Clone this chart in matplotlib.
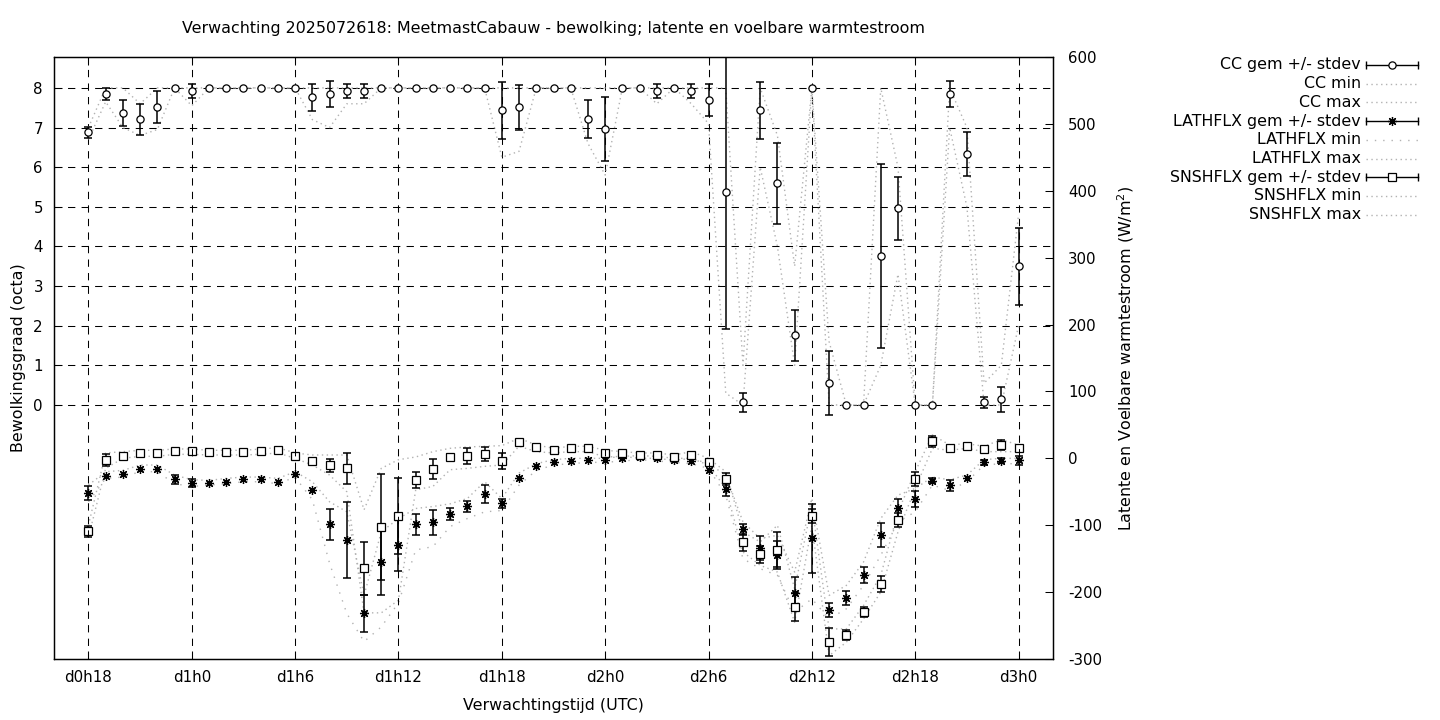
import numpy as np
import matplotlib
matplotlib.use("Agg")
import matplotlib.pyplot as plt
from matplotlib.lines import Line2D

# forecast hours (d0h18 .. d3h0)
hours = np.arange(18, 73)
tick_hours = [18, 24, 30, 36, 42, 48, 54, 60, 66, 72]
tick_labels = ["d0h18", "d1h0", "d1h6", "d1h12", "d1h18", "d2h0", "d2h6", "d2h12", "d2h18", "d3h0"]

# cloud cover (octa)
cc_mean = [6.88, 7.85, 7.36, 7.21, 7.51, 8, 7.92, 8, 8, 8, 8, 8, 8,
           7.76, 7.84, 7.92, 7.92, 8, 8, 8, 8, 8, 8, 8, 7.44, 7.51,
           8, 8, 8, 7.22, 6.96, 8, 8, 7.92, 8, 7.92, 7.69, 5.37, 0.07,
           7.44, 5.59, 1.76, 8, 0.55, 0, 0, 3.75, 4.96, 0, 0, 7.84,
           6.33, 0.07, 0.14, 3.5]
cc_std = [0.14, 0.15, 0.33, 0.39, 0.40, 0, 0.17, 0, 0, 0, 0, 0, 0,
          0.33, 0.33, 0.17, 0.17, 0, 0, 0, 0, 0, 0, 0, 0.72, 0.57,
          0, 0, 0, 0.48, 0.81, 0, 0, 0.17, 0, 0.17, 0.40, 3.46, 0.24,
          0.72, 1.03, 0.64, 0, 0.80, 0, 0, 2.32, 0.80, 0, 0, 0.33,
          0.56, 0.14, 0.32, 0.97]
cc_min = [6.7, 7.65, 7.0, 6.8, 6.95, 8, 7.55, 8, 8, 8, 8, 8, 8,
          7.2, 7.0, 7.6, 7.6, 8, 8, 8, 8, 8, 8, 8, 6.25, 6.4,
          8, 8, 8, 6.6, 5.8, 8, 8, 7.6, 8, 7.6, 7.1, 0.3, 0,
          6.0, 4.0, 1.0, 8, 0, 0, 0, 1.0, 3.3, 0, 0, 7.0,
          5.0, 0, 0, 2.0]
cc_max = [7.0, 8, 8, 7.6, 8, 8, 8, 8, 8, 8, 8, 8, 8,
          8, 8, 8, 8, 8, 8, 8, 8, 8, 8, 8, 8, 8,
          8, 8, 8, 8, 8, 8, 8, 8, 8, 8, 8, 8, 1.0,
          8, 6.8, 3.5, 8, 1.6, 0, 0, 8, 6.0, 0, 0, 8,
          7.0, 0.55, 1.0, 4.8]

# latent heat flux (W/m2)
lat_mean = [-52.3, -26.5, -23.5, -15.5, -15.5, -31.4, -37.4, -37, -35, -31.4, -31.4, -35, -24,
            -47.4, -98.7, -122, -231.7, -155.5, -130, -98.7, -95.7, -83.7, -71.8, -53.8, -67.3, -30,
            -12, -6, -3.6, -3, -3, 0, 1.5, 0, -3, -4.5, -17.5, -46, -106,
            -133.6, -144.6, -200.9, -119.6, -227, -209, -175, -115, -74.7, -61.3, -33.5, -40.4,
            -30, -6, -3.6, -3]
lat_std = [10.5, 0, 0, 0, 0, 7, 6, 0, 0, 0, 0, 0, 0,
           0, 23, 57, 28, 49, 39, 15.7, 18.7, 9, 8, 13.5, 6.5, 0,
           0, 0, 0, 0, 0, 0, 0, 0, 0, 0, 0, 11, 8,
           18, 21, 23, 52, 10, 10.5, 12, 18, 13.5, 12, 4, 8,
           0, 4, 4, 6.5]
lat_min = [-65, -30, -28, -20, -20, -38, -42, -40, -38, -35, -35, -38, -28,
           -62, -157, -232, -274, -252, -216, -137, -132, -102, -90, -80, -78, -40,
           -18, -10, -8, -6, -6, -4, -2, -4, -6, -8, -15, -55, -150,
           -165, -175, -230, -210, -240, -225, -190, -145, -95, -80, -40, -48,
           -35, -10, -8, -8]
lat_max = [-40, -20, -18, -10, -10, -25, -32, -33, -30, -28, -28, -30, -20,
           -35, -65, -80, -205, -110, -90, -75, -72, -68, -60, -35, -60, -22,
           -8, -2, 0, 0, 0, 3, 4, 3, 0, 0, -8, -25, -95,
           -120, -115, -170, -60, -205, -190, -155, -90, -55, -45, -28, -32,
           -25, -2, 0, 0]

# sensible heat flux (W/m2)
sns_mean = [-109, -3, 3.4, 7.5, 7.5, 10.5, 10.5, 9, 9, 9, 10.5, 12, 3.4,
            -4.5, -10.5, -15, -164.5, -103, -86.7, -33, -16.5, 2, 3.4, 6.4, -4.5, 24,
            16.4, 12, 15, 15, 7.5, 7.5, 5.4, 5, 1.5, 4.5, -5.5, -31.4, -125.6,
            -143.5, -136.6, -222.8, -86.7, -275, -264.6, -230, -188, -92.7, -31.4, 25.4, 15,
            18, 13.5, 19.4, 15]
sns_std = [8, 9, 0, 0, 0, 0, 0, 0, 0, 0, 0, 0, 0,
           0, 10, 23, 40, 79, 57, 12, 15, 5, 12, 10, 12, 0,
           0, 0, 0, 0, 5, 4, 0, 0, 0, 4, 4, 9, 13,
           12.5, 26, 21, 10.5, 21, 7.5, 7.5, 11.5, 10.5, 10.5, 8, 0,
           0, 0, 7.5, 0]
sns_min = [-118, -15, 0, 3, 3, 6, 6, 5, 5, 5, 6, 8, 0,
           -10, -25, -50, -231, -231, -212, -47, -42, -17, -15, -12, -10, 18,
           10, 8, 10, 10, 2, 3, 0, 0, -3, 0, -10, -45, -140,
           -160, -170, -245, -100, -295, -275, -240, -200, -110, -45, 15, 12,
           15, 10, 10, 10]
sns_max = [-100, 8, 10, 12, 12, 14, 14, 12, 12, 12, 14, 16, 8,
           5, 5, 5, -77, -15, -2, 2, 10, 15, 17, 18, 19, 30,
           20, 15, 18, 18, 12, 10, 8, 8, 5, 10, 0, -20, -110,
           -125, -100, -195, -70, -255, -255, -220, -175, -80, -20, 35, 20,
           22, 18, 28, 20]

title = "Verwachting 2025072618: MeetmastCabauw - bewolking; latente en voelbare warmtestroom"

plt.rcParams['font.family'] = ['DejaVu Sans']
plt.rcParams['axes.unicode_minus'] = False  # gnuplot prints a plain hyphen
fs = 11.4   # titles, labels, key
tfs = 10.8  # tick labels

fig = plt.figure(figsize=(14.4, 7.2), dpi=100)
W, H = 1440, 720
ax = fig.add_axes([54 / W, 1 - 659 / H, (1053 - 54) / W, (659 - 57) / H])
ax2 = ax.twinx()

gray = '#b2b2b2'
dot = (0, (1, 2.5))
dot_sparse = (0, (1, 5))


def draw_series(a, mean, std, mn, mx, marker, ms, min_ls):
    mean = np.array(mean, dtype=float)
    std = np.array(std, dtype=float)
    a.plot(hours, mn, color=gray, lw=1.0, ls=min_ls, zorder=2)
    a.plot(hours, mx, color=gray, lw=1.0, ls=dot, zorder=2)
    has = std > 0
    a.errorbar(hours[has], mean[has], yerr=std[has], fmt='none', ecolor='black',
               elinewidth=1.1, capsize=3, capthick=1.1, zorder=3)
    a.plot(hours, mean, ls='none', marker=marker, ms=ms, mfc='white', mec='black',
           mew=0.9, zorder=4)


draw_series(ax, cc_mean, cc_std, cc_min, cc_max, 'o', 5.2, dot)
draw_series(ax2, lat_mean, lat_std, lat_min, lat_max, (8, 2, 0), 6.5, dot_sparse)
draw_series(ax2, sns_mean, sns_std, sns_min, sns_max, 's', 5.8, dot)

ax.set_xlim(16, 74)
ax.set_ylim(-6.41, 8.78)
ax2.set_ylim(-300, 600)
ax.set_xticks(tick_hours)
ax.set_xticklabels(tick_labels)
ax.set_yticks(range(0, 9))
ax2.set_yticks(range(-300, 601, 100))

ax.grid(True, color='black', lw=0.75, ls=(0, (7, 6)))
ax.tick_params(axis='x', direction='in', length=6, width=0.75, top=True, pad=8, labelsize=tfs)
ax.tick_params(axis='y', direction='in', length=6, width=0.75, pad=8, labelsize=tfs)
ax2.tick_params(axis='y', direction='in', length=6, width=0.75, pad=11, labelsize=tfs)
for a in (ax, ax2):
    for s in a.spines.values():
        s.set_linewidth(0.9)
ax.set_zorder(ax2.get_zorder() + 1)
ax.patch.set_visible(False)

ax.set_xlabel("Verwachtingstijd (UTC)", fontsize=fs)
ax.xaxis.set_label_coords(0.5, -39 / 602)
ax.set_ylabel("Bewolkingsgraad (octa)", fontsize=fs)
ax.yaxis.set_label_coords(-28 / 999, 0.5)
ax2.set_ylabel("Latente en Voelbare warmtestroom (W/m$^2$)", fontsize=fs)
ax2.yaxis.set_label_coords((1115 - 54) / 999, 0.5)
fig.text(553.5 / W, 1 - 29 / H, title, ha='center', va='center', fontsize=fs)

# gnuplot-style key
key = [
    ("CC gem +/- stdev", 'err', 'o', 5.2),
    ("CC min", dot, None, 0),
    ("CC max", dot, None, 0),
    ("LATHFLX gem +/- stdev", 'err', (8, 2, 0), 6.5),
    ("LATHFLX min", dot_sparse, None, 0),
    ("LATHFLX max", dot, None, 0),
    ("SNSHFLX gem +/- stdev", 'err', 's', 5.8),
    ("SNSHFLX min", dot, None, 0),
    ("SNSHFLX max", dot, None, 0),
]
x0, x1 = 1366 / W, 1418 / W
for i, (lab, kind, mk, ms) in enumerate(key):
    yy = 1 - (65 + i * 18.7) / H
    fig.text(1361 / W, yy, lab, ha='right', va='center', fontsize=fs)
    if kind == 'err':
        fig.add_artist(Line2D([x0, x1], [yy, yy], color='black', lw=1.0, transform=fig.transFigure))
        fig.add_artist(Line2D([x0, x1], [yy, yy], ls='none', marker='|', ms=6, mew=1.0,
                              color='black', transform=fig.transFigure))
        fig.add_artist(Line2D([(x0 + x1) / 2], [yy], ls='none', marker=mk, ms=ms, mfc='white',
                              mec='black', mew=0.9, transform=fig.transFigure))
    else:
        fig.add_artist(Line2D([x0, x1], [yy, yy], color=gray, lw=1.0, ls=kind,
                              transform=fig.transFigure))

fig.savefig("out.png", dpi=100)
